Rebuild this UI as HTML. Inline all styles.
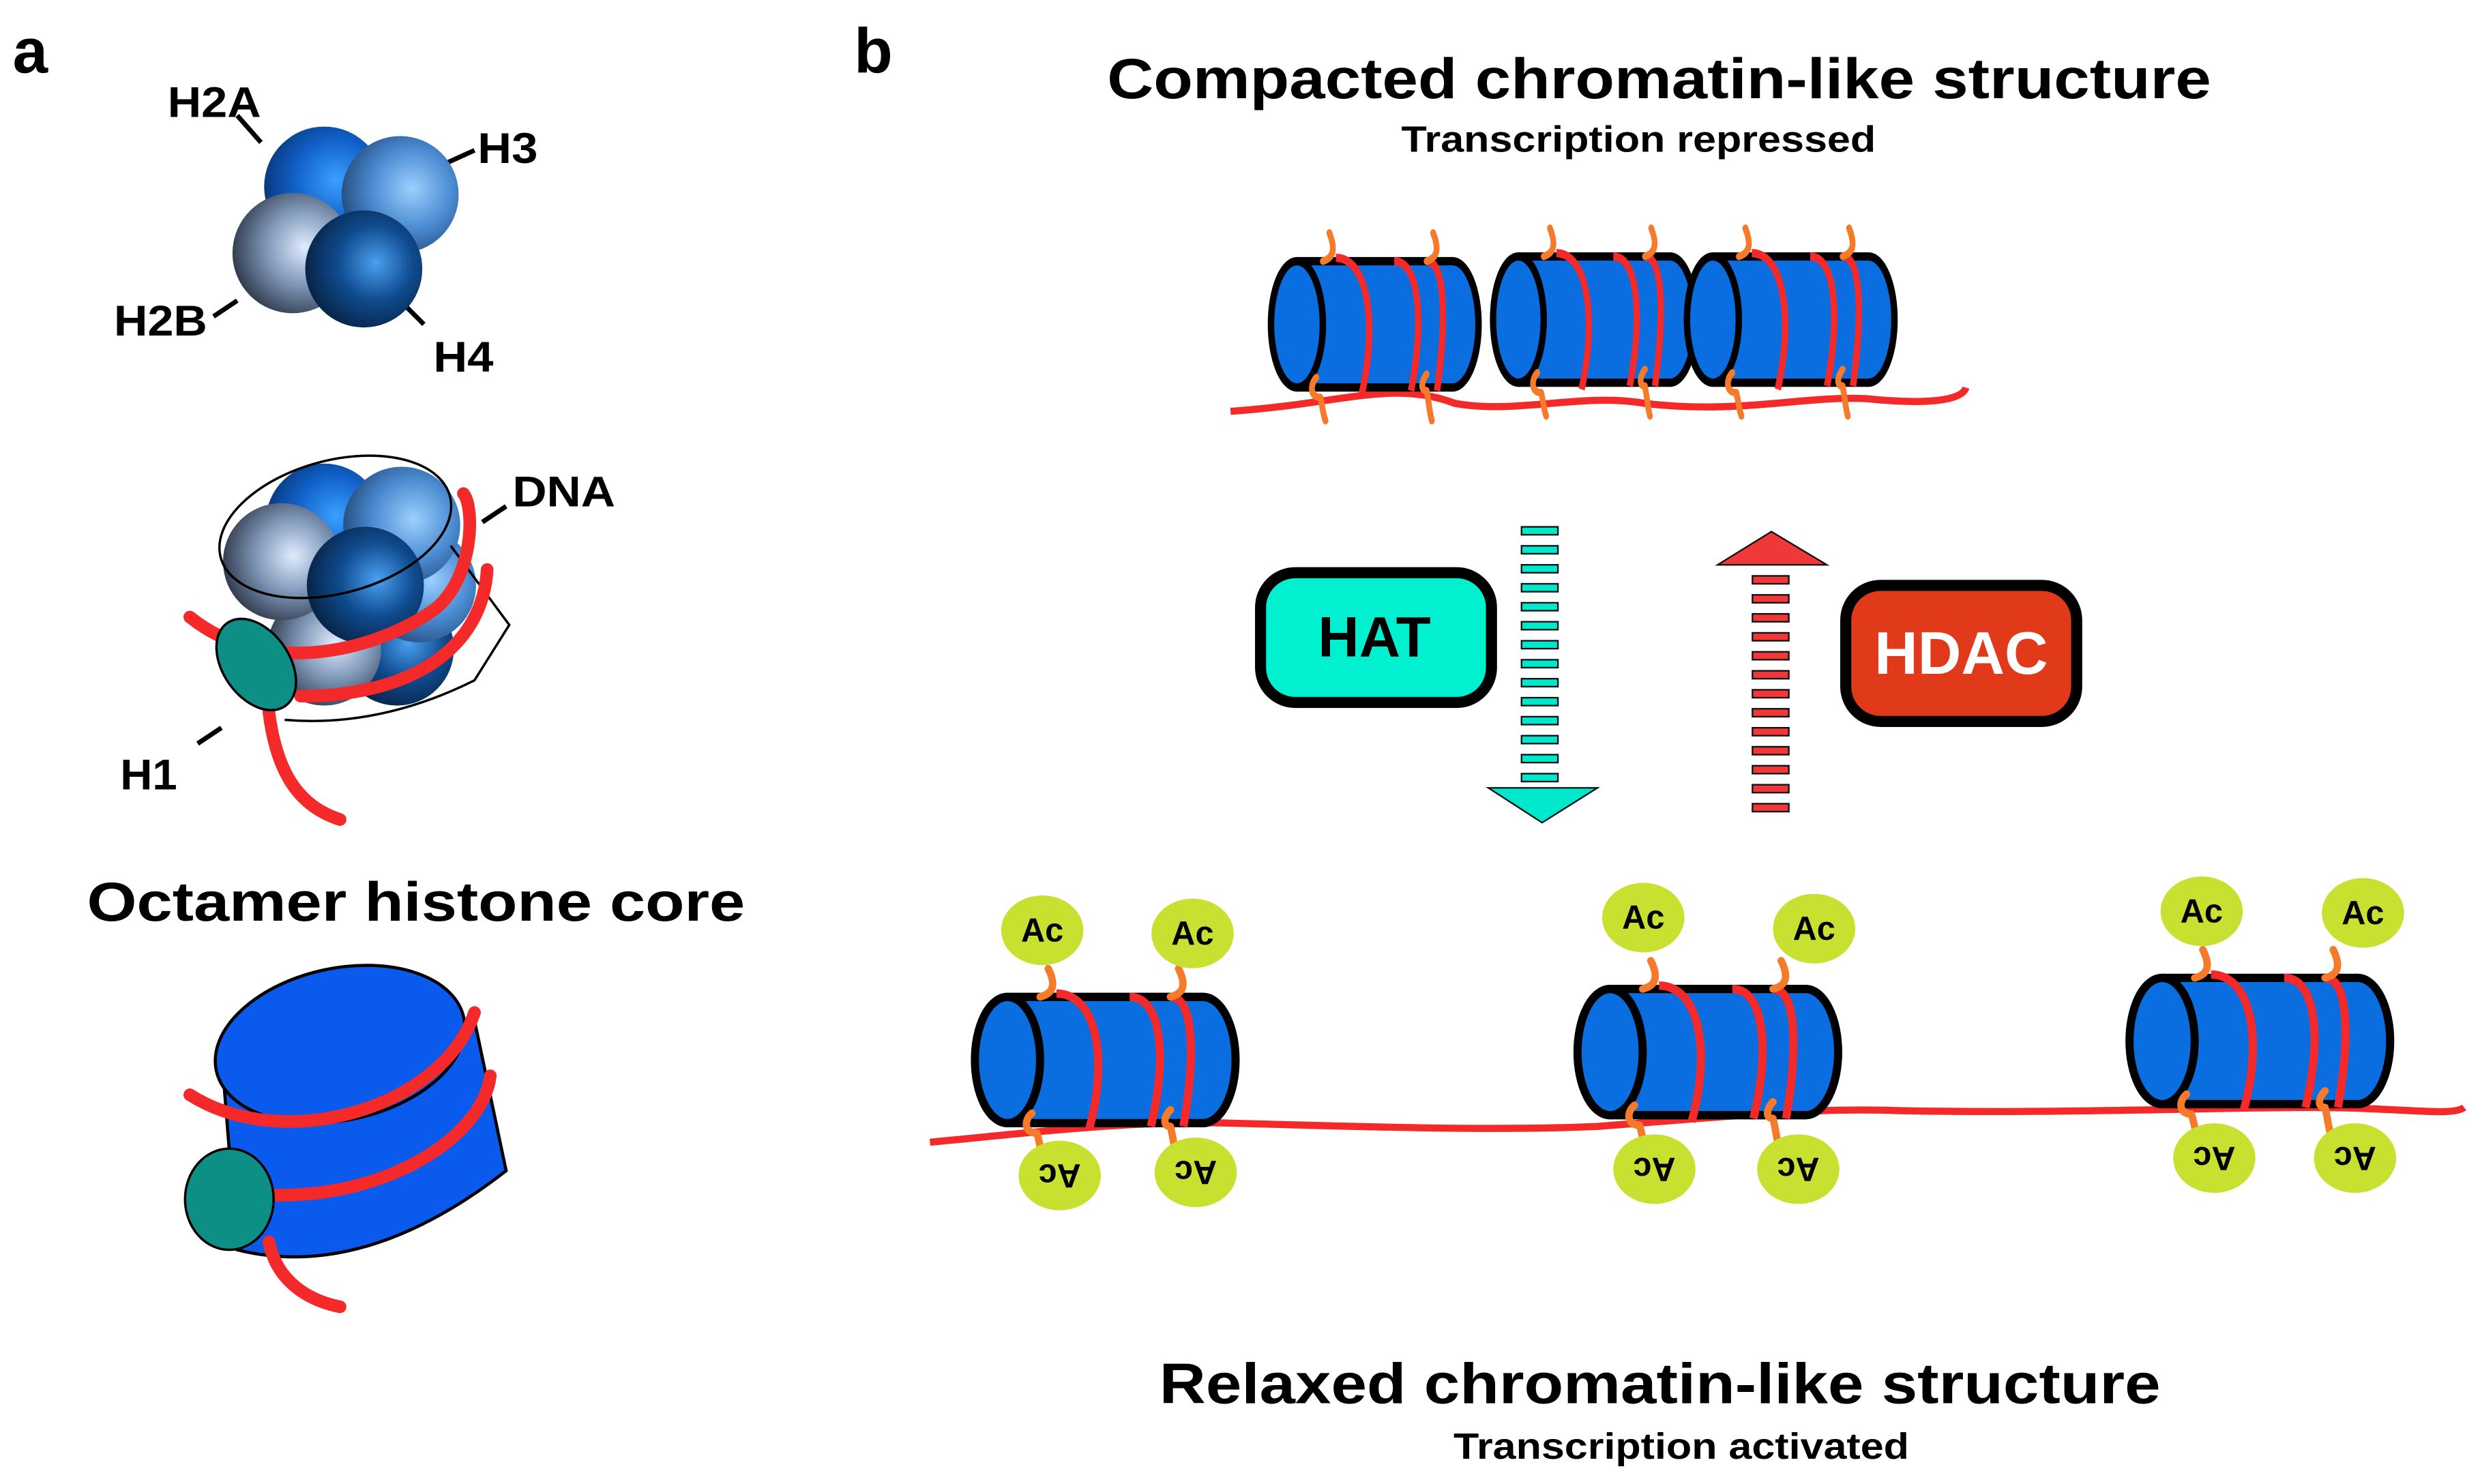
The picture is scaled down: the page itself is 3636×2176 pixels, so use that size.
<!DOCTYPE html>
<html><head><meta charset="utf-8"><style>html,body{margin:0;padding:0;background:#fff}svg{display:block}</style></head>
<body>
<svg width="3636" height="2176" viewBox="0 0 1568 938" preserveAspectRatio="none" xmlns="http://www.w3.org/2000/svg" font-family="Liberation Sans, Arial, sans-serif" font-weight="bold">
<defs>
<radialGradient id="gA" cx="0.6" cy="0.45" r="0.7"><stop offset="0" stop-color="#3aa0ff"/><stop offset="0.5" stop-color="#1060c8"/><stop offset="1" stop-color="#062a60"/></radialGradient>
<radialGradient id="g3" cx="0.6" cy="0.45" r="0.7"><stop offset="0" stop-color="#9cd0ff"/><stop offset="0.5" stop-color="#4a8ad0"/><stop offset="1" stop-color="#1a3a66"/></radialGradient>
<radialGradient id="gB" cx="0.6" cy="0.45" r="0.7"><stop offset="0" stop-color="#e0ecff"/><stop offset="0.45" stop-color="#8098b8"/><stop offset="1" stop-color="#1a2030"/></radialGradient>
<radialGradient id="g4" cx="0.6" cy="0.45" r="0.7"><stop offset="0" stop-color="#4aa0f0"/><stop offset="0.45" stop-color="#104c90"/><stop offset="1" stop-color="#031830"/></radialGradient>
<g id="cyl">
<ellipse cx="120" cy="0" rx="20" ry="38" fill="#0a6ee0" stroke="#000" stroke-width="5"/>
<rect x="0" y="-38" width="120" height="76" fill="#0a6ee0"/>
<line x1="0" y1="-38" x2="120" y2="-38" stroke="#000" stroke-width="5"/>
<line x1="0" y1="38" x2="120" y2="38" stroke="#000" stroke-width="5"/>
<ellipse cx="0" cy="0" rx="20" ry="38" fill="#0a6ee0" stroke="#000" stroke-width="5"/>
<path d="M30,-40 C55,-40 62,0 50,42" fill="none" stroke="#f42a2a" stroke-width="5"/>
<path d="M75,-38 C95,-38 98,0 88,40" fill="none" stroke="#f42a2a" stroke-width="5"/>
<path d="M100,-38 C115,-38 115,0 108,40" fill="none" stroke="#f42a2a" stroke-width="5"/>
<path d="M25,-55 C30,-45 28,-40 20,-38 M105,-55 C110,-45 108,-40 100,-38 M18,44 C10,44 10,36 15,32 M18,44 C20,50 20,54 22,58 M100,40 C95,40 96,34 100,30 M100,40 C102,48 102,52 104,58" fill="none" stroke="#f57a2a" stroke-width="4.5" stroke-linecap="round"/>
</g>
</defs>
<rect width="1568" height="938" fill="#fff"/>
<text x="8" y="46" font-size="40">a</text>
<text x="540" y="46" font-size="40">b</text>

<g stroke="#000" stroke-width="3">
<line x1="150" y1="73" x2="165" y2="90"/><line x1="278" y1="105" x2="300" y2="95"/><line x1="135" y1="200" x2="150" y2="190"/><line x1="255" y1="192" x2="268" y2="205"/>
<line x1="305" y1="330" x2="320" y2="320"/><line x1="125" y1="470" x2="140" y2="460"/>
</g>
<circle cx="205" cy="118" r="38" fill="url(#gA)"/>
<circle cx="253" cy="123" r="37" fill="url(#g3)"/>
<circle cx="185" cy="160" r="38" fill="url(#gB)"/>
<circle cx="230" cy="170" r="37" fill="url(#g4)"/>
<g font-size="27">
<text x="106" y="74" textLength="59" lengthAdjust="spacingAndGlyphs">H2A</text>
<text x="302" y="103" textLength="38" lengthAdjust="spacingAndGlyphs">H3</text>
<text x="72" y="212" textLength="59" lengthAdjust="spacingAndGlyphs">H2B</text>
<text x="274" y="235" textLength="38" lengthAdjust="spacingAndGlyphs">H4</text>
<text x="324" y="320" textLength="65" lengthAdjust="spacingAndGlyphs">DNA</text>
<text x="76" y="499" textLength="36" lengthAdjust="spacingAndGlyphs">H1</text>
</g>

<circle cx="251" cy="410" r="36" fill="url(#g4)"/>
<circle cx="205" cy="410" r="36" fill="url(#gB)"/>
<circle cx="265" cy="370" r="36" fill="url(#g3)"/>
<circle cx="205" cy="330" r="37" fill="url(#gA)"/>
<circle cx="254" cy="332" r="37" fill="url(#g3)"/>
<circle cx="178" cy="355" r="37" fill="url(#gB)"/>
<circle cx="231" cy="370" r="37" fill="url(#g4)"/>
<ellipse cx="212" cy="333" rx="75" ry="42" transform="rotate(-15 212 333)" fill="none" stroke="#000" stroke-width="1.5"/>
<path d="M285,345 L322,395 L300,430 Q240,460 180,455" fill="none" stroke="#000" stroke-width="1.5"/>
<g fill="none" stroke="#f42a2a" stroke-width="8" stroke-linecap="round">
<path d="M120,390 C170,430 240,410 275,385 C300,365 300,320 293,312"/>
<path d="M190,440 C260,440 305,410 308,360"/>
<path d="M170,450 C175,490 190,510 215,518"/>
</g>
<ellipse cx="162" cy="420" rx="21" ry="32" transform="rotate(-35 162 420)" fill="#0d8f86" stroke="#000" stroke-width="1.5"/>

<text x="55" y="582" font-size="35" textLength="416" lengthAdjust="spacingAndGlyphs">Octamer histone core</text>

<path d="M140,665 L150,790 Q230,810 320,740 L300,645 Z" fill="#0a5aee" stroke="#000" stroke-width="2"/>
<ellipse cx="215" cy="660" rx="80" ry="48" transform="rotate(-12 215 660)" fill="#0a5aee" stroke="#000" stroke-width="2"/>
<g fill="none" stroke="#f42a2a" stroke-width="8" stroke-linecap="round">
<path d="M120,692 C180,730 280,700 300,640"/>
<path d="M165,755 C240,760 305,720 310,680"/>
<path d="M170,785 C175,810 195,822 215,826"/>
</g>
<ellipse cx="145" cy="758" rx="28" ry="32" fill="#0d8f86" stroke="#000" stroke-width="1.5"/>

<text x="700" y="62" font-size="36" textLength="698" lengthAdjust="spacingAndGlyphs">Compacted chromatin-like structure</text>
<text x="886" y="96" font-size="23" textLength="300" lengthAdjust="spacingAndGlyphs">Transcription repressed</text>
<text x="733" y="887" font-size="36" textLength="633" lengthAdjust="spacingAndGlyphs">Relaxed chromatin-like structure</text>
<text x="919" y="922" font-size="23" textLength="288" lengthAdjust="spacingAndGlyphs">Transcription activated</text>

<path d="M778,260 C850,255 880,240 920,255 C960,262 1000,248 1040,255 C1100,262 1140,250 1180,252 C1210,255 1240,255 1243,245" fill="none" stroke="#f42a2a" stroke-width="4.5"/>
<use href="#cyl" transform="translate(820 205) scale(0.82 1.05)"/>
<use href="#cyl" transform="translate(960 202) scale(0.8 1.05)"/>
<use href="#cyl" transform="translate(1083 202) scale(0.82 1.05)"/>

<rect x="797" y="362" width="146" height="82" rx="22" fill="#00f0d0" stroke="#000" stroke-width="7"/>
<text x="869" y="415" font-size="36" text-anchor="middle">HAT</text>
<rect x="1167" y="370" width="146" height="86" rx="22" fill="#e03a1a" stroke="#000" stroke-width="7"/>
<text x="1240" y="426" font-size="38" text-anchor="middle" fill="#fff">HDAC</text>
<g fill="#00e8cc" stroke="#111" stroke-width="1">
<rect x="962" y="333" width="23" height="5"/><rect x="962" y="345" width="23" height="5"/><rect x="962" y="357" width="23" height="5"/><rect x="962" y="369" width="23" height="5"/><rect x="962" y="381" width="23" height="5"/><rect x="962" y="393" width="23" height="5"/><rect x="962" y="405" width="23" height="5"/><rect x="962" y="417" width="23" height="5"/><rect x="962" y="429" width="23" height="5"/><rect x="962" y="441" width="23" height="5"/><rect x="962" y="453" width="23" height="5"/><rect x="962" y="465" width="23" height="5"/><rect x="962" y="477" width="23" height="5"/><rect x="962" y="489" width="23" height="5"/>
<path d="M941,498 L1010,498 L975,520 Z"/>
</g>
<g fill="#f03838" stroke="#111" stroke-width="1">
<path d="M1086,357 L1155,357 L1120,336 Z"/>
<rect x="1108" y="364" width="23" height="5"/><rect x="1108" y="376" width="23" height="5"/><rect x="1108" y="388" width="23" height="5"/><rect x="1108" y="400" width="23" height="5"/><rect x="1108" y="412" width="23" height="5"/><rect x="1108" y="424" width="23" height="5"/><rect x="1108" y="436" width="23" height="5"/><rect x="1108" y="448" width="23" height="5"/><rect x="1108" y="460" width="23" height="5"/><rect x="1108" y="472" width="23" height="5"/><rect x="1108" y="484" width="23" height="5"/><rect x="1108" y="496" width="23" height="5"/><rect x="1108" y="508" width="23" height="5"/>
</g>

<path d="M588,722 C660,715 720,708 780,710 C860,712 940,715 1010,712 C1100,705 1150,700 1200,702 C1300,704 1400,700 1460,700 C1520,700 1550,706 1558,700" fill="none" stroke="#f42a2a" stroke-width="4.5"/>
<use href="#cyl" transform="translate(637 670) scale(1.03 1.05)"/>
<use href="#cyl" transform="translate(1018 665) scale(1.03 1.05)"/>
<use href="#cyl" transform="translate(1367 658) scale(1.03 1.05)"/>
<g fill="#c8e030">
<ellipse cx="659" cy="588" rx="26" ry="22"/><ellipse cx="754" cy="590" rx="26" ry="22"/><ellipse cx="1039" cy="580" rx="26" ry="22"/><ellipse cx="1147" cy="587" rx="26" ry="22"/><ellipse cx="1392" cy="576" rx="26" ry="22"/><ellipse cx="1494" cy="577" rx="26" ry="22"/>
<ellipse cx="670" cy="743" rx="26" ry="22"/><ellipse cx="756" cy="741" rx="26" ry="22"/><ellipse cx="1046" cy="739" rx="26" ry="22"/><ellipse cx="1137" cy="739" rx="26" ry="22"/><ellipse cx="1400" cy="732" rx="26" ry="22"/><ellipse cx="1489" cy="732" rx="26" ry="22"/>
</g>
<g font-size="21" text-anchor="middle">
<text x="659" y="595">Ac</text><text x="754" y="597">Ac</text><text x="1039" y="587">Ac</text><text x="1147" y="594">Ac</text><text x="1392" y="583">Ac</text><text x="1494" y="584">Ac</text>
<text transform="translate(670 743) rotate(180)" y="7">Ac</text><text transform="translate(756 741) rotate(180)" y="7">Ac</text><text transform="translate(1046 739) rotate(180)" y="7">Ac</text><text transform="translate(1137 739) rotate(180)" y="7">Ac</text><text transform="translate(1400 732) rotate(180)" y="7">Ac</text><text transform="translate(1489 732) rotate(180)" y="7">Ac</text>
</g>
</svg>
</body></html>
